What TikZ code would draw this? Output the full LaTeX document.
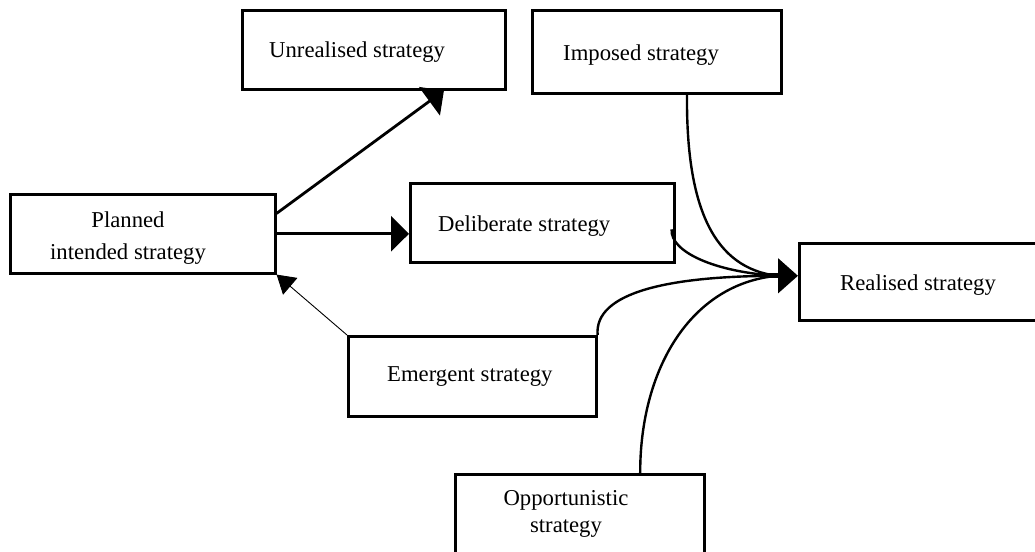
\documentclass[tikz,border=0pt]{standalone}
\usepackage{fontspec}
\setmainfont{Liberation Serif}
\usetikzlibrary{arrows.meta,calc}
\begin{document}
\begin{tikzpicture}[x=1pt,y=-1pt,
  box/.style={draw, line width=2.6pt, rectangle, inner sep=0pt, anchor=north west},
  lbl/.style={inner sep=0pt, font=\fontsize{22.7}{32}\selectfont},
  thickarrow/.style={line width=2.8pt, -{Triangle[length=18pt,width=35pt]}},
  thinarrow/.style={line width=0.9pt, -{Triangle[length=18pt,width=22pt]}},
  curve/.style={line width=2.4pt}]
\useasboundingbox (0,0) rectangle (1035,551);
\clip (0,0) rectangle (1035,551);
% boxes
\node[box, minimum width=263pt, minimum height=79pt] (unreal) at (241,9) {};
\node[box, minimum width=249pt, minimum height=83pt] (imposed) at (531,9) {};
\node[box, minimum width=265pt, minimum height=79pt] (planned) at (9,193) {};
\node[box, minimum width=264pt, minimum height=79pt] (delib) at (409,182) {};
\node[box, minimum width=250pt, minimum height=77pt] (realised) at (798,242) {};
\node[box, minimum width=248pt, minimum height=80pt] (emergent) at (347,335) {};
\node[box, minimum width=249pt, minimum height=100pt] (opport) at (454,473) {};
% texts
\node[lbl, anchor=base west] (unreal-t) at (269,58) {Unrealised strategy};
\node[lbl, anchor=base west] (imposed-t) at (563,60) {Imposed strategy};
\node[lbl, anchor=base west] (delib-t) at (438,231) {Deliberate strategy};
\node[lbl, anchor=base west] (realised-t) at (840,290) {Realised strategy};
\node[lbl, anchor=base west] (emergent-t) at (387,381) {Emergent strategy};
\node[lbl, anchor=base, align=center] (planned-t) at (128,259) {Planned\\intended strategy};
\node[lbl, anchor=base, align=center, font=\fontsize{22.7}{27}\selectfont] (opport-t) at (566,532) {Opportunistic\\strategy};
% straight connectors
\draw[thickarrow] ($(planned.north east)!0.25!(planned.south east)$) -- ($(unreal.south west)!0.764!(unreal.south east)$);
\draw[thickarrow] (planned.east) -- (delib.west |- planned.east);
\draw[thinarrow] (emergent.north west) -- (planned.south east);
% converging curves
\coordinate (c) at ($(realised.west)+(-21,-6)$);
\coordinate (c0) at ($(realised.west)+(-38,-6)$);
\draw[curve] ($(imposed.south west)!0.62!(imposed.south east)$) .. controls (686,210) and (715,268) .. (c);
\draw[curve] ($(delib.east)+(-4,6.5)$) .. controls (670,252) and (715,272) .. (c);
\draw[curve] (emergent.north east) .. controls (594,292) and (670,276) .. (c);
\draw[curve] ($(opport.north west)!0.74!(opport.north east)$) .. controls (640,370) and (690,284) .. (c);
\draw[line width=5pt, -{Triangle[length=20pt,width=34pt]}] (c0) -- (realised.west |- c);
\end{tikzpicture}
\end{document}
